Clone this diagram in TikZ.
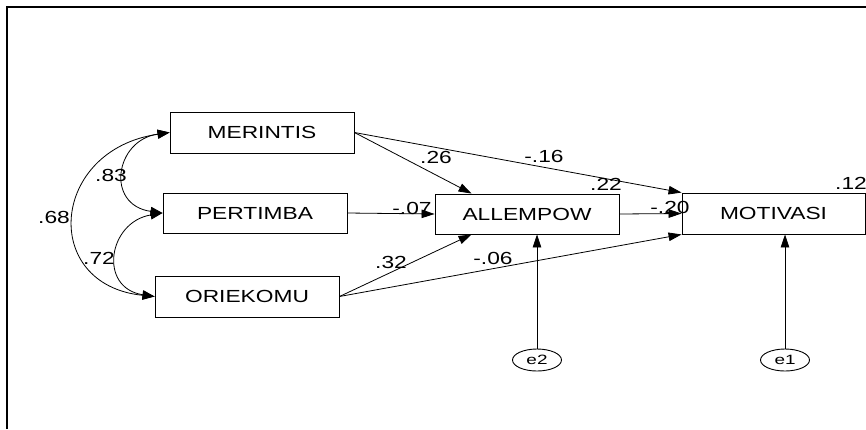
\documentclass[tikz,border=0pt]{standalone}
\usepackage{fontspec}
\setmainfont{Liberation Sans}
\usetikzlibrary{arrows.meta,calc,shapes.geometric}
\newcommand{\stretchtxt}[1]{\scalebox{1.3}[1]{#1}}
\begin{document}
\begin{tikzpicture}[x=1pt,y=-1pt,
  varbox/.style={draw,line width=0.9pt,inner sep=0pt,minimum width=184pt,minimum height=41pt,
    font=\fontsize{17.5}{19}\selectfont},
  errnode/.style={draw,ellipse,line width=0.9pt,inner sep=0pt,minimum width=49pt,minimum height=22pt,
    font=\fontsize{13.5}{15}\selectfont},
  coef/.style={inner sep=0pt,font=\fontsize{17.5}{19}\selectfont},
  path/.style={line width=0.8pt,-{Triangle[length=13pt,width=8.5pt]}},
  cov/.style={line width=0.8pt,{Triangle[length=12pt,width=9pt]}-{Triangle[length=12pt,width=9pt]}}
]
\useasboundingbox (0,0) rectangle (866,429);
\draw[line width=2pt] (7,429) -- (7,7) -- (866,7);

\node[varbox] (mer) at (262,132.5) {\stretchtxt{MERINTIS}};
\node[varbox,minimum height=40pt] (per) at (255,213) {\stretchtxt{PERTIMBA}};
\node[varbox] (ori) at (247,296.5) {\stretchtxt{ORIEKOMU}};
\node[varbox,minimum height=40pt] (all) at (527,214) {\stretchtxt{ALLEMPOW}};
\node[varbox,minimum width=183pt] (mot) at (773.5,213.5) {\stretchtxt{MOTIVASI}};
\node[errnode] (e2) at (537,360) {\scalebox{1.4}[1]{e2}};
\node[errnode] (e1) at (785,360) {\scalebox{1.4}[1]{e1}};

\coordinate (allTop) at ($(all.north west)+(37,0)$);
\coordinate (allBot) at ($(all.south west)+(37,0)$);

\draw[path] (mer.east) -- (allTop);
\draw[path] (mer.east) -- (mot.north west);
\draw[path] (per.east) -- (all.west);
\draw[path] (ori.east) -- (allBot);
\draw[path] (ori.east) -- (mot.south west);
\draw[path] (all.east) -- (mot.west);
\draw[path] (e2.north) -- (e2.north |- all.south);
\draw[path] (e1.north) -- (e1.north |- mot.south);

\draw[cov] (mer.west) .. controls (115,140) and (105,205) .. (per.west);
\draw[cov] (per.west) .. controls (108,222) and (98,288) .. (ori.west);
\draw[cov] (mer.west) .. controls (50,150) and (40,285) .. (ori.west);

\node[coef] (c83) at (111,175) {\stretchtxt{.83}};
\node[coef] (c72) at (99,258) {\stretchtxt{.72}};
\node[coef] (c68) at (54,217) {\stretchtxt{.68}};
\node[coef] (c26) at (436,157) {\stretchtxt{.26}};
\node[coef] (c16) at (544,156) {\stretchtxt{-.16}};
\node[coef] (c22) at (606,184) {\stretchtxt{.22}};
\node[coef] (c12) at (851,183) {\stretchtxt{.12}};
\node[coef] (c07) at (412,208) {\stretchtxt{-.07}};
\node[coef] (c20) at (670,207) {\stretchtxt{-.20}};
\node[coef] (c32) at (391,262) {\stretchtxt{.32}};
\node[coef] (c06) at (493,258) {\stretchtxt{-.06}};
\end{tikzpicture}
\end{document}
